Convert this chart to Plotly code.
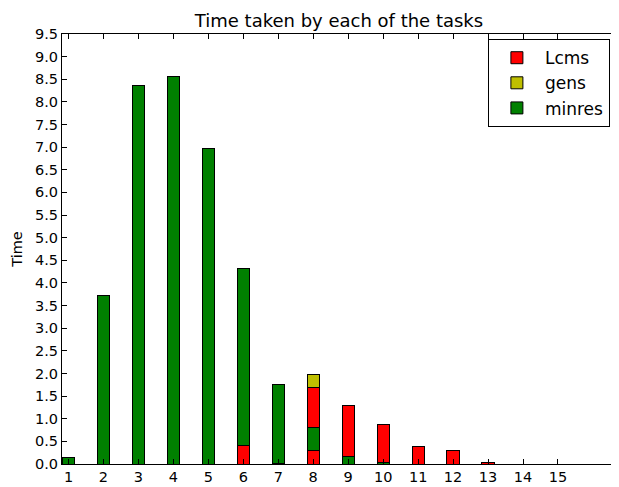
import plotly.graph_objects as go

tasks = list(range(1, 14))
# stacking layers, bottom to top
lcms_low  = [0, 0, 0, 0, 0, 0.40, 0.01, 0.30, 0, 0, 0.38, 0.30, 0.04]
minres    = [0.15, 3.72, 8.37, 8.57, 6.96, 3.93, 1.74, 0.51, 0.17, 0.03, 0, 0, 0]
lcms_high = [0, 0, 0, 0, 0, 0, 0, 0.89, 1.13, 0.85, 0, 0, 0]
gens      = [0, 0, 0, 0, 0, 0, 0, 0.28, 0, 0, 0, 0, 0]

x_ticks = list(range(1, 16))
y_ticks = [i * 0.5 for i in range(20)]

RED, YEL, GRN = "#ff0000", "#bfbf00", "#008000"
line = dict(color="black", width=1)

fig = go.Figure()
fig.add_bar(x=tasks, y=lcms_low, name="Lcms", marker=dict(color=RED, line=line),
            width=0.35, legendgroup="Lcms", legendrank=1)
fig.add_bar(x=tasks, y=minres, name="minres", marker=dict(color=GRN, line=line),
            width=0.35, legendgroup="minres", legendrank=3)
fig.add_bar(x=tasks, y=lcms_high, name="Lcms", marker=dict(color=RED, line=line),
            width=0.35, legendgroup="Lcms", showlegend=False)
fig.add_bar(x=tasks, y=gens, name="gens", marker=dict(color=YEL, line=line),
            width=0.35, legendgroup="gens", legendrank=2)

font = "DejaVu Sans"
fs = 14.5
fig.update_layout(
    width=611, height=479,
    barmode="stack",
    paper_bgcolor="white", plot_bgcolor="white",
    margin=dict(l=54, r=2, t=26, b=19),
    font=dict(family=font, size=fs, color="black"),
    title=dict(text="Time taken by each of the tasks", x=0.5, xref="paper", xanchor="center",
               y=1, yref="container", yanchor="top", pad=dict(t=6),
               font=dict(size=18, family=font, color="black")),
    legend=dict(x=0.989, y=0.988, xanchor="right", yanchor="top",
                bgcolor="white", bordercolor="black", borderwidth=1,
                font=dict(size=17, family=font), itemwidth=46,
                traceorder="normal", tracegroupgap=8),
    xaxis=dict(range=[0.814, 16.66], tickvals=x_ticks, ticktext=[str(t) for t in x_ticks],
               ticks="inside", ticklen=5, tickcolor="black", showline=True,
               linecolor="black", linewidth=1, mirror="allticks", showgrid=False,
               zeroline=False, tickfont=dict(size=fs)),
    yaxis=dict(range=[0, 9.5], tickvals=y_ticks, ticktext=[f"{v:.1f}" for v in y_ticks],
               ticks="inside", ticklen=5, tickcolor="black", showline=True,
               linecolor="black", linewidth=1, mirror="allticks", showgrid=False,
               zeroline=False, tickfont=dict(size=fs),
               title=dict(text="Time", font=dict(size=fs), standoff=8)),
)

fig.write_html("out.html")
